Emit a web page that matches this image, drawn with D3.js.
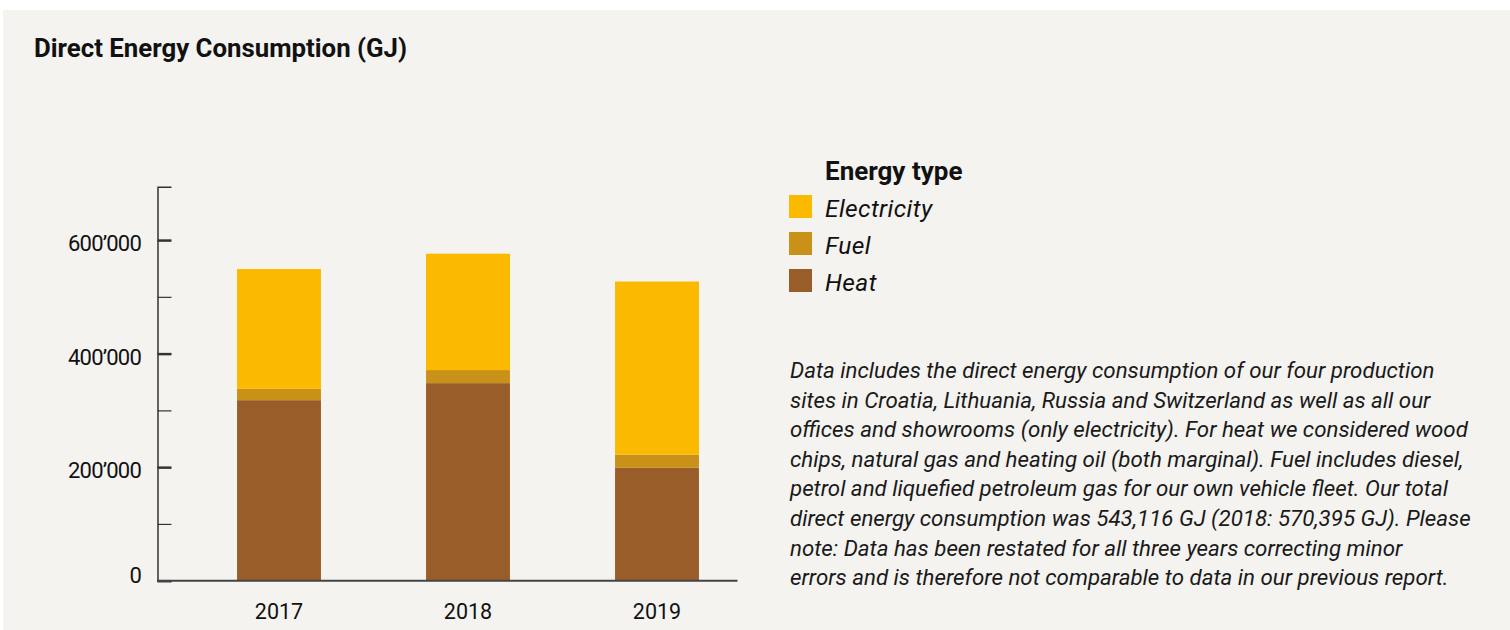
<!DOCTYPE html>
<html lang="en">
<head>
<meta charset="UTF-8">
<title>Direct Energy Consumption</title>
<script src="https://d3js.org/d3.v7.min.js"></script>
<style>
    body { margin: 0; background: #fff; }
    svg { font-family: Roboto, "DejaVu Sans", sans-serif; }
    .note text { font-style: italic; font-size: 22.3px; fill: #1a1a1a; }
</style>
</head>
<body>
<div id="chart"></div>
<script>
    // data (GJ)
    var years = ["2017", "2018", "2019"];
    var heat = [318000, 348000, 199000];
    var fuel = [20000, 23000, 23000];
    var electricity = [211000, 205000, 305000];
    var types = ["Heat", "Fuel", "Electricity"];
    var typeColors = ["#995d2a", "#c99118", "#fbb900"];
    var legendOrder = ["Electricity", "Fuel", "Heat"];
    var yTicks = [0, 100000, 200000, 300000, 400000, 500000, 600000];
    var noteLines = [
        "Data includes the direct energy consumption of our four production",
        "sites in Croatia, Lithuania, Russia and Switzerland as well as all our",
        "offices and showrooms (only electricity). For heat we considered wood",
        "chips, natural gas and heating oil (both marginal). Fuel includes diesel,",
        "petrol and liquefied petroleum gas for our own vehicle fleet. Our total",
        "direct energy consumption was 543,116 GJ (2018: 570,395 GJ). Please",
        "note: Data has been restated for all three years correcting minor",
        "errors and is therefore not comparable to data in our previous report."
    ];

    var W = 1510, H = 630;
    var svg = d3.select("#chart").append("svg")
        .attr("width", W).attr("height", H);

    svg.append("rect")
        .attr("x", 3).attr("y", 10)
        .attr("width", W - 3).attr("height", H - 10)
        .attr("fill", "#f4f3f0");

    svg.append("text")
        .attr("x", 34).attr("y", 57)
        .style("font-weight", "bold").style("font-size", "25.8px")
        .attr("fill", "#111")
        .text("Direct Energy Consumption (GJ)");

    var rows = years.map(function(y, i) {
        return {year: y, Heat: heat[i], Fuel: fuel[i], Electricity: electricity[i]};
    });
    var stacked = d3.stack().keys(types)(rows);
    var color = d3.scaleOrdinal().domain(types).range(typeColors);

    var x = d3.scaleBand()
        .domain(years)
        .range([184.5, 751.5])
        .paddingInner(0.556)
        .paddingOuter(0.278);

    var y = d3.scaleLinear()
        .domain([0, 694000])
        .range([580.7, 186.7]);

    // bars
    svg.append("g").selectAll("g")
        .data(stacked).enter().append("g")
        .attr("fill", function(d) { return color(d.key); })
        .selectAll("rect")
        .data(function(d) { return d; })
        .enter().append("rect")
        .attr("x", function(d) { return x(d.data.year); })
        .attr("width", x.bandwidth())
        .attr("y", function(d) { return y(d[1]); })
        .attr("height", function(d) { return y(d[0]) - y(d[1]); });

    // y axis
    var fmt = function(v) { return d3.format(",")(v).replace(/,/g, "\u2019"); };
    var yAxis = svg.append("g")
        .attr("transform", "translate(157.5,0)")
        .call(d3.axisRight(y).tickValues(yTicks).tickSize(14).tickSizeOuter(14).tickFormat(""));
    yAxis.select(".domain").attr("stroke", "#333").attr("stroke-width", 1.5);
    yAxis.selectAll(".tick line")
        .attr("stroke", "#333")
        .attr("stroke-width", function(d) { return d % 200000 === 0 ? 2.5 : 1.2; });

    svg.append("g").selectAll("text")
        .data(yTicks.filter(function(d) { return d % 200000 === 0; }))
        .enter().append("text")
        .attr("x", 141)
        .attr("y", function(d) { return d === 0 ? y(d) + 2 : y(d) + 11; })
        .attr("text-anchor", "end")
        .style("font-size", "22px")
        .style("letter-spacing", "-0.8px")
        .attr("fill", "#111")
        .text(fmt);

    // x axis
    svg.append("line")
        .attr("x1", 157.5).attr("x2", 737.5)
        .attr("y1", y(0)).attr("y2", y(0))
        .attr("stroke", "#444").attr("stroke-width", 2);

    svg.append("g").selectAll("text")
        .data(years).enter().append("text")
        .attr("x", function(d) { return x(d) + x.bandwidth() / 2; })
        .attr("y", 619)
        .attr("text-anchor", "middle")
        .style("font-size", "21.5px")
        .attr("fill", "#111")
        .text(function(d) { return d; });

    // legend
    var legend = svg.append("g");
    legend.append("text")
        .attr("x", 825).attr("y", 180)
        .style("font-weight", "bold").style("font-size", "26px")
        .attr("fill", "#111")
        .text("Energy type");
    var item = legend.selectAll(".item")
        .data(legendOrder).enter().append("g")
        .attr("transform", function(d, i) { return "translate(789," + (195 + i * 37) + ")"; });
    item.append("rect")
        .attr("width", 23).attr("height", 23)
        .attr("fill", function(d) { return color(d); });
    item.append("text")
        .attr("x", 36).attr("y", 22)
        .style("font-style", "italic").style("font-size", "24.5px")
        .style("letter-spacing", "0.4px")
        .attr("fill", "#111")
        .text(function(d) { return d; });

    // note
    svg.append("g").attr("class", "note")
        .selectAll("text")
        .data(noteLines).enter().append("text")
        .attr("x", 790)
        .attr("y", function(d, i) { return 378 + i * 29.6; })
        .text(function(d) { return d; });
</script>
</body>
</html>
